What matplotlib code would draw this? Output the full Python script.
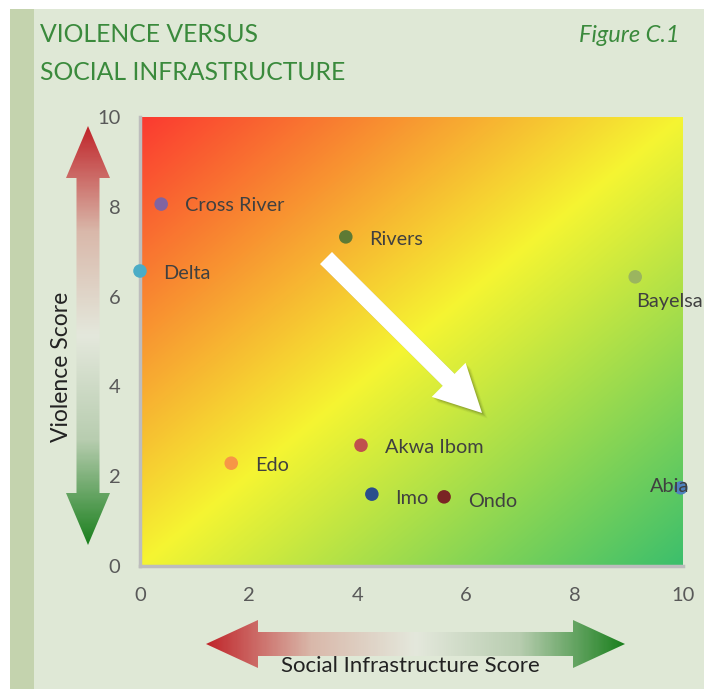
import numpy as np
import matplotlib
matplotlib.use("Agg")
import matplotlib.pyplot as plt
import matplotlib.patches as mpatches
import matplotlib.patheffects as pe
from matplotlib.colors import LinearSegmentedColormap

plt.rcParams['font.family'] = ['Lato', 'DejaVu Sans']

# ---- data ----
states = ["Cross River", "Rivers", "Delta", "Bayelsa", "Akwa Ibom", "Edo", "Imo", "Ondo", "Abia"]
social_infra = [0.39, 3.79, 0.0, 9.12, 4.07, 1.68, 4.27, 5.60, 9.96]
violence = [8.06, 7.33, 6.57, 6.44, 2.69, 2.29, 1.60, 1.54, 1.74]
point_colors = ["#8064a2", "#5e7a34", "#4bacc6", "#9bb55f", "#c0504d", "#f79646", "#2a4d8c", "#7a2424", "#4f81bd"]
label_offsets = [(17, -1), (17, -2), (17, -2), (1, -18), (17, -2), (17, -2), (17, -3), (17, -3), (-22, 1)]
x_ticks = [0, 2, 4, 6, 8, 10]
y_ticks = [0, 2, 4, 6, 8, 10]

W, H = 704, 689
fig = plt.figure(figsize=(W / 100, H / 100), dpi=100)
fig.patch.set_facecolor("#dfe8d6")

# background decoration axes (pixel coords)
bg = fig.add_axes([0, 0, 1, 1], zorder=0)
bg.set_xlim(0, W); bg.set_ylim(H, 0); bg.axis("off")
bg.add_patch(mpatches.Rectangle((0, 0), W, 9, color="white", lw=0))
bg.add_patch(mpatches.Rectangle((0, 0), 10, H, color="white", lw=0))
bg.add_patch(mpatches.Rectangle((10, 9), 24, H, color="#c4d3ae", lw=0))

# main axes
L, R, T, B = 140, 683, 117, 566
ax = fig.add_axes([L / W, 1 - B / H, (R - L) / W, (B - T) / H], zorder=1)
ax.set_xlim(0, 10); ax.set_ylim(0, 10)

grad_cmap = LinearSegmentedColormap.from_list("g", ["#fb3a30", "#f5f532", "#3cbf6c"])
u = np.linspace(0, 1, 400)
v = np.linspace(1, 0, 400)
U, V = np.meshgrid(u, v)
Tg = (U + (1 - V)) / 2
ax.imshow(Tg, cmap=grad_cmap, extent=[0, 10, 0, 10], aspect="auto", origin="upper",
          zorder=0, vmin=0, vmax=1, interpolation="bilinear")

for s in ["top", "right"]:
    ax.spines[s].set_visible(False)
for s in ["left", "bottom"]:
    ax.spines[s].set_color("#bdbdbd")
    ax.spines[s].set_linewidth(2.5)
ax.set_xticks(x_ticks); ax.set_yticks(y_ticks)
ax.tick_params(length=0, labelsize=14.5, labelcolor="#595959")
ax.tick_params(axis="x", pad=15)
ax.tick_params(axis="y", pad=14)

ax.scatter(social_infra, violence, s=95, c=point_colors, zorder=3, clip_on=False, linewidths=0)
for name, x, y, off in zip(states, social_infra, violence, label_offsets):
    ax.annotate(name, (x, y), xytext=off, textcoords="offset points", fontsize=14.3,
                color="#404040", ha="left", va="center", annotation_clip=False, zorder=4)

# overlay axes for arrows (pixel coords)
ov = fig.add_axes([0, 0, 1, 1], zorder=2)
ov.set_xlim(0, W); ov.set_ylim(H, 0); ov.axis("off")
ov.patch.set_alpha(0)

# big white arrow
tail = np.array([326.0, 258.0]); tip = np.array([482.0, 413.0])
d = tip - tail; ln = np.hypot(*d); uu = d / ln; nn = np.array([-uu[1], uu[0]])
sw, hw, hl = 8.5, 24.0, 47.0
base = tip - uu * hl
poly = [tail + nn * sw, base + nn * sw, base + nn * hw, tip, base - nn * hw, base - nn * sw, tail - nn * sw]
shadow_effects = []
for k, a in [(1, 0.08), (2, 0.07), (3, 0.06), (4, 0.04), (5, 0.03)]:
    shadow_effects.append(pe.SimplePatchShadow(offset=(k * 0.8, -k * 0.8), shadow_rgbFace="#000000", alpha=a))
warrow = mpatches.Polygon(poly, closed=True, fc="white", ec="none", zorder=5)
warrow.set_path_effects(shadow_effects + [pe.Normal()])
ov.add_patch(warrow)

arrow_cmap = LinearSegmentedColormap.from_list("a", ["#c0252a", "#d9b8aa", "#e4e8dc", "#b8cdb0", "#1b801e"])

def grad_arrow(p0, p1, shaft_w, head_w, head_l, vertical):
    p0 = np.array(p0, float); p1 = np.array(p1, float)
    d = p1 - p0; ln = np.hypot(*d); uu = d / ln; nn = np.array([-uu[1], uu[0]])
    b0 = p0 + uu * head_l; b1 = p1 - uu * head_l
    pts = [p0, b0 + nn * head_w / 2, b0 + nn * shaft_w / 2, b1 + nn * shaft_w / 2, b1 + nn * head_w / 2, p1,
           b1 - nn * head_w / 2, b1 - nn * shaft_w / 2, b0 - nn * shaft_w / 2, b0 - nn * head_w / 2]
    patch = mpatches.Polygon(pts, closed=True, fc="none", ec="none")
    ov.add_patch(patch)
    g = np.linspace(0, 1, 300)
    if vertical:
        img = g[:, None] * np.ones((1, 2))
        ext = (p0[0] - head_w / 2, p0[0] + head_w / 2, p1[1], p0[1])
    else:
        img = g[None, :] * np.ones((2, 1))
        ext = (p0[0], p1[0], p0[1] + head_w / 2, p0[1] - head_w / 2)
    im = ov.imshow(img, cmap=arrow_cmap, extent=ext, aspect="auto", origin="upper",
                   interpolation="bilinear", vmin=0, vmax=1)
    im.set_clip_path(patch)

grad_arrow((88, 126), (88, 545), 23, 44, 52, True)
grad_arrow((206, 644), (625, 644), 24, 48, 52, False)
ov.set_xlim(0, W); ov.set_ylim(H, 0)

# texts
fig.text(40 / W, 1 - 34 / H, "VIOLENCE VERSUS", fontsize=17.8, color="#3a8a3c", va="center", ha="left")
fig.text(40 / W, 1 - 72 / H, "SOCIAL INFRASTRUCTURE", fontsize=17.8, color="#3a8a3c", va="center", ha="left")
fig.text(680 / W, 1 - 35 / H, "Figure C.1", fontsize=17, color="#3a8a3c", va="center", ha="right", style="italic")
fig.text(62 / W, 1 - 367 / H, "Violence Score", fontsize=16.5, color="#222222", rotation=90, va="center", ha="center")
fig.text(410 / W, 1 - 666 / H, "Social Infrastructure Score", fontsize=16, color="#222222", va="center", ha="center")

fig.savefig("out.png", dpi=100, facecolor=fig.get_facecolor())
